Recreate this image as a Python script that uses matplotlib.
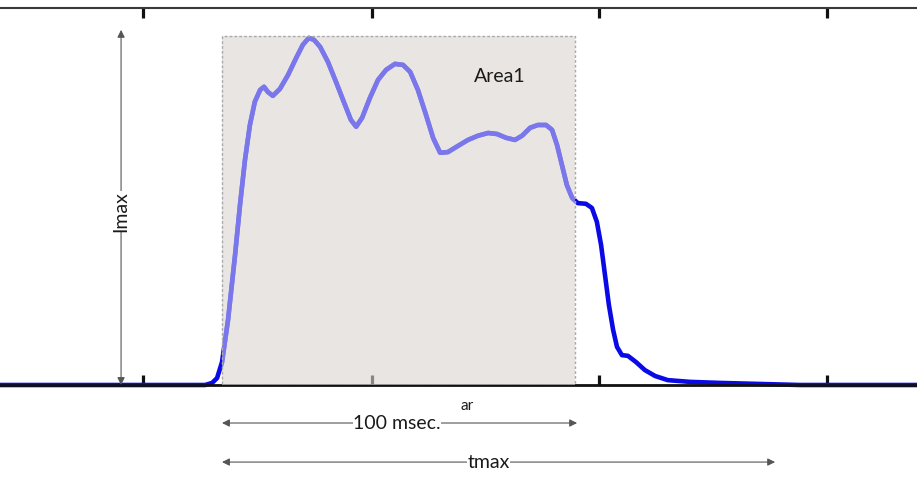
import numpy as np
import matplotlib.pyplot as plt
from matplotlib.patches import Rectangle

# Signal trace (time in ms, intensity in % of Imax)
time_ms = [-62.9, -4.8, -2.8, -1.4, 0.0, 1.7, 3.7, 5.1, 6.5, 7.9, 9.3, 10.8, 11.9,
           13.0, 14.4, 16.4, 18.7, 21.0, 22.9, 24.6, 26.1, 27.8, 30.0, 32.3, 34.6,
           36.5, 38.0, 39.7, 41.9, 44.2, 46.5, 49.0, 51.3, 53.3, 55.5, 57.8, 59.8,
           61.8, 64.0, 66.9, 69.7, 72.5, 75.4, 77.9, 80.5, 83.0, 85.0, 87.3, 89.5,
           91.8, 93.5, 94.9, 96.3, 97.7, 99.2, 100.8, 103.1, 104.8, 106.2, 107.4,
           108.5, 109.6, 110.8, 111.9, 113.3, 115.0, 117.3, 119.8, 122.7, 126.3,
           132.6, 141.1, 152.4, 163.7, 196.9]
intensity = [0, 0, 0.6, 2.0, 6.6, 18.7, 37.5, 51.9, 64.8, 74.9, 81.6, 85.0, 85.9,
             84.4, 83.3, 85.3, 89.3, 94.2, 98.0, 100.0, 99.4, 97.4, 93.1, 87.3, 81.3,
             76.4, 74.4, 77.0, 82.7, 87.9, 90.8, 92.5, 92.2, 90.2, 85.0, 77.8, 71.2,
             66.9, 67.1, 68.9, 70.6, 71.8, 72.6, 72.3, 71.2, 70.6, 71.8, 74.1, 74.9,
             74.9, 73.5, 69.2, 63.4, 57.6, 53.9, 52.4, 52.2, 51.0, 47.0, 40.3,
             31.7, 23.1, 15.9, 11.0, 8.6, 8.4, 6.6, 4.3, 2.6, 1.4,
             0.9, 0.6, 0.3, 0, 0]

tick_ms = [-22.4, 42.5, 106.8, 171.4]
area_start, area_end, area_top = 0.0, 100.0, 100.6
imax_x, imax_top = -28.6, 102.3
tmax_end = 156.7

fig = plt.figure(figsize=(9.17, 4.97), dpi=100)
ax = fig.add_axes([0, 112 / 497, 1, 377 / 497])
ax.set_xlim(-62.9, 196.9)
ax.set_ylim(0, 108.6)

for s in ['left', 'right']:
    ax.spines[s].set_visible(False)
ax.spines['top'].set_color('#3a3a3a')
ax.spines['top'].set_linewidth(1.5)
ax.spines['bottom'].set_color('#111111')
ax.spines['bottom'].set_linewidth(2)
ax.set_yticks([])
ax.set_xticks(tick_ms)
ax.tick_params(axis='x', which='both', direction='in', top=True, bottom=True,
               length=7.5, width=2.3, color='#111111',
               labelbottom=False, labeltop=False)

ax.plot(time_ms, intensity, color='#0a0ae6', lw=3.3, zorder=2,
        solid_capstyle='round', clip_on=False)

ax.add_patch(Rectangle((area_start, 0), area_end - area_start, area_top,
                       facecolor=(0.85, 0.83, 0.817), alpha=0.6,
                       edgecolor='none', zorder=3))
# lighter trace inside the shaded area
clip = Rectangle((area_start, 0), area_end - area_start, area_top,
                 transform=ax.transData, facecolor='none', edgecolor='none')
ax.add_patch(clip)
inner, = ax.plot(time_ms, intensity, color='#7a76ec', lw=3.3, zorder=3.05,
                 solid_capstyle='round')
inner.set_clip_path(clip)
ax.add_patch(Rectangle((area_start, 0), area_end - area_start, area_top,
                       facecolor='none', edgecolor='#aaaaaa', lw=1,
                       linestyle=(0, (2, 1.5)), zorder=3.1))

font = 'Lato'
txt = '#1a1a1a'
ax.text(78.8, 88.8, 'Area1', fontsize=14, family=font, ha='center', va='center',
        color=txt, zorder=5)

arrow = dict(arrowstyle='<|-|>', color='#555555', lw=0.8, mutation_scale=11,
             shrinkA=0, shrinkB=0)

# Imax
ax.annotate('', xy=(imax_x, imax_top), xytext=(imax_x, 0), arrowprops=arrow,
            annotation_clip=False, zorder=4)
ax.text(imax_x, 50, 'Imax', rotation=90, fontsize=14, family=font,
        ha='center', va='center', color=txt, zorder=5,
        bbox=dict(facecolor='white', edgecolor='none', pad=0.3))

# 100 msec.
ax.annotate('', xy=(area_start, -10.95), xytext=(area_end + 0.6, -10.95),
            arrowprops=arrow, annotation_clip=False)
ax.text((area_start + area_end) / 2 - 0.5, -10.95, '100 msec.', fontsize=14,
        family=font, ha='center', va='center', color=txt, clip_on=False,
        bbox=dict(facecolor='white', edgecolor='none', pad=0.3))
ax.text(69.4, -6.0, 'ar', fontsize=11, family=font, ha='center', va='center',
        color=txt, clip_on=False)

# tmax
ax.annotate('', xy=(area_start, -22.2), xytext=(tmax_end, -22.2),
            arrowprops=arrow, annotation_clip=False)
ax.text(75.6, -22.2, 'tmax', fontsize=14, family=font, ha='center', va='center',
        color=txt, clip_on=False,
        bbox=dict(facecolor='white', edgecolor='none', pad=0.3))

fig.savefig('out.png', dpi=100)
